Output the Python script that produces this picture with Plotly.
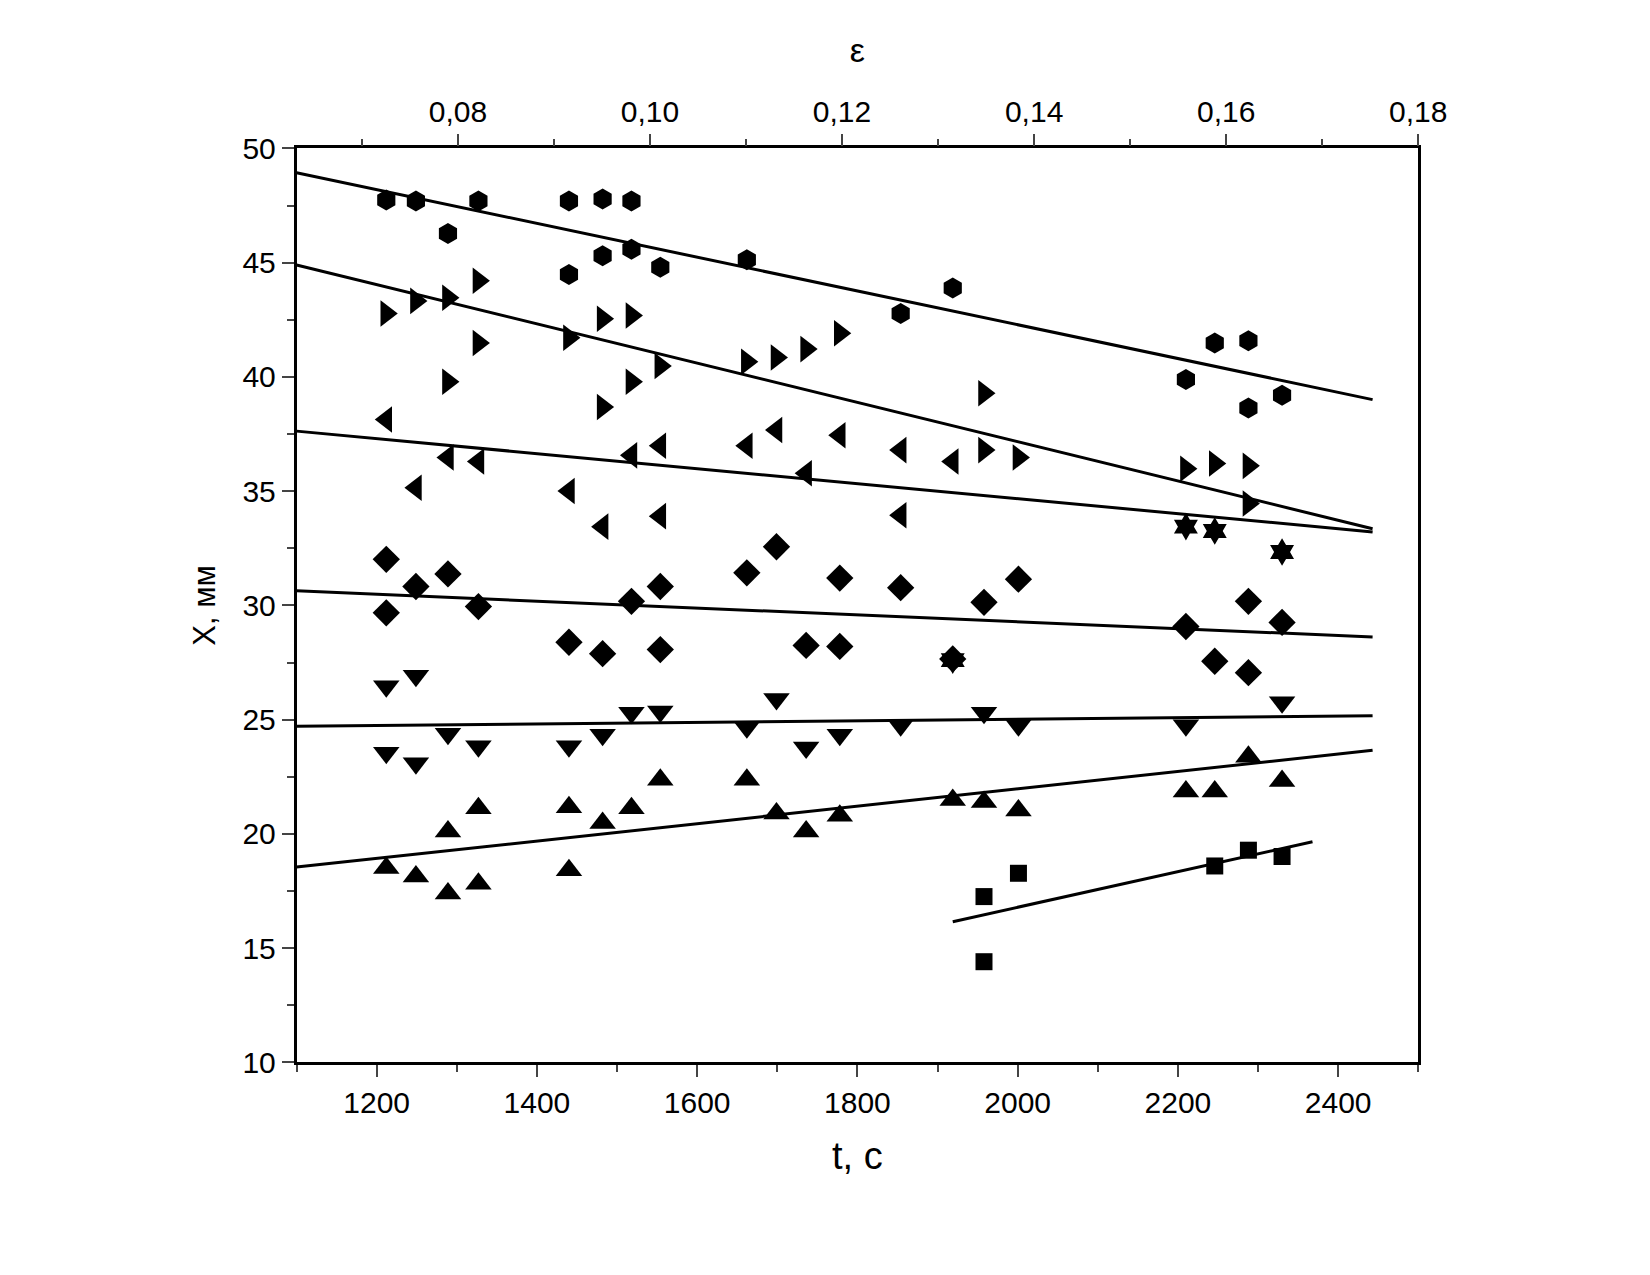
import plotly.graph_objects as go

# t, c and X, mm for each marker series
hex_t = [1212, 1249, 1289, 1327, 1440, 1440, 1482, 1482, 1518, 1518, 1554, 1662, 1854, 1919, 2210, 2246, 2288, 2288, 2330]
hex_x = [47.75, 47.70, 46.28, 47.70, 47.70, 44.48, 47.79, 45.31, 47.70, 45.59, 44.80, 45.13, 42.78, 43.89, 39.89, 41.49, 41.59, 38.64, 39.20]

rtri_t = [1212, 1249, 1289, 1289, 1327, 1327, 1440, 1482, 1482, 1518, 1518, 1554, 1662, 1699, 1736, 1778, 1958, 1958, 2001, 2210, 2246, 2288, 2288]
rtri_x = [42.78, 43.33, 43.47, 39.79, 44.21, 41.49, 41.72, 42.55, 38.69, 42.69, 39.79, 40.48, 40.67, 40.85, 41.22, 41.91, 39.29, 36.80, 36.48, 35.98, 36.21, 36.11, 34.46]

ltri_t = [1212, 1249, 1289, 1327, 1440, 1482, 1518, 1554, 1554, 1662, 1699, 1736, 1778, 1854, 1854, 1919]
ltri_x = [38.14, 35.15, 36.48, 36.30, 35.01, 33.45, 36.57, 36.99, 33.91, 36.99, 37.68, 35.79, 37.45, 36.80, 33.95, 36.30]

star_t = [2210, 2246, 2330, 1919]
star_x = [33.45, 33.26, 32.34, 27.61]

dia_t = [1212, 1212, 1249, 1289, 1327, 1440, 1482, 1518, 1554, 1554, 1662, 1699, 1736, 1778, 1778, 1854, 1919, 1958, 2001, 2210, 2246, 2288, 2288, 2330]
dia_x = [32.02, 29.68, 30.83, 31.38, 29.95, 28.39, 27.89, 30.18, 30.83, 28.07, 31.43, 32.57, 28.25, 31.20, 28.21, 30.78, 27.66, 30.14, 31.15, 29.08, 27.56, 30.18, 27.06, 29.26]

dtri_t = [1212, 1212, 1249, 1249, 1289, 1327, 1440, 1482, 1518, 1554, 1662, 1699, 1736, 1778, 1854, 1958, 2001, 2210, 2330]
dtri_x = [26.46, 23.56, 26.92, 23.10, 24.39, 23.84, 23.84, 24.34, 25.31, 25.36, 24.67, 25.91, 23.79, 24.34, 24.76, 25.31, 24.76, 24.76, 25.77]

utri_t = [1212, 1249, 1289, 1289, 1327, 1327, 1440, 1440, 1482, 1518, 1554, 1662, 1699, 1736, 1778, 1919, 1958, 2001, 2210, 2246, 2288, 2330]
utri_x = [18.51, 18.14, 17.40, 20.11, 17.82, 21.13, 18.41, 21.17, 20.48, 21.13, 22.37, 22.37, 20.90, 20.11, 20.80, 21.49, 21.40, 21.03, 21.86, 21.86, 23.38, 22.32]

sq_t = [1958, 1958, 2001, 2246, 2288, 2330]
sq_x = [17.26, 14.41, 18.28, 18.60, 19.29, 19.01]

# fitted lines: start/end points
fit_t = [[1100, 2443], [1100, 2443], [1100, 2443], [1100, 2443], [1100, 2443], [1100, 2443], [1919, 2368]]
fit_x = [[48.94, 39.01], [44.90, 33.36], [37.63, 33.22], [30.64, 28.62], [24.71, 25.17], [18.55, 23.66], [16.16, 19.66]]

eps_range = [0.0632, 0.18]

fig = go.Figure()
for t, x in zip(fit_t, fit_x):
    fig.add_trace(go.Scatter(x=t, y=x, mode="lines", line=dict(color="black", width=3), showlegend=False))

series = [
    (hex_t, hex_x, "hexagon", 21),
    (rtri_t, rtri_x, "triangle-right", 23),
    (ltri_t, ltri_x, "triangle-left", 23),
    (star_t, star_x, "hexagram", 21),
    (dia_t, dia_x, "diamond", 21),
    (dtri_t, dtri_x, "triangle-down", 23),
    (utri_t, utri_x, "triangle-up", 23),
    (sq_t, sq_x, "square", 17),
]
for t, x, sym, sz in series:
    fig.add_trace(go.Scatter(x=t, y=x, mode="markers", showlegend=False,
                             marker=dict(symbol=sym, size=sz, color="black", line=dict(width=0))))

# dummy trace so the top axis shows up
fig.add_trace(go.Scatter(x=eps_range, y=[10, 10], xaxis="x2", mode="markers",
                         marker=dict(opacity=0), showlegend=False, hoverinfo="skip"))

font = dict(family="Liberation Sans, Arial", size=30, color="black")
fig.update_layout(
    width=1650, height=1275, paper_bgcolor="white", plot_bgcolor="white",
    separators=", ", font=font, margin=dict(l=0, r=0, t=0, b=0),
    xaxis=dict(domain=[0.178, 0.870], range=[1100, 2500], dtick=200, tick0=1200,
               ticks="outside", ticklen=12, tickwidth=2, showline=True, linecolor="black",
               linewidth=2.5, showgrid=False, zeroline=False,
               minor=dict(dtick=100, ticks="outside", ticklen=7, tickwidth=2),
               title=dict(text="t, c", font=dict(size=38), standoff=25)),
    xaxis2=dict(overlaying="x", side="top", anchor="y", range=eps_range, dtick=0.02, tick0=0.08,
                tickformat=".2f", ticks="outside", ticklen=12, tickwidth=2, showline=True,
                linecolor="black", linewidth=2.5, showgrid=False, zeroline=False,
                minor=dict(dtick=0.01, ticks="outside", ticklen=7, tickwidth=2),
                title=dict(text="ε", font=dict(size=34), standoff=22)),
    yaxis=dict(domain=[0.164, 0.9005], range=[10, 50], dtick=5, ticks="outside", ticklen=12,
               tickwidth=2, showline=True, linecolor="black", linewidth=2.5, mirror=True,
               showgrid=False, zeroline=False,
               minor=dict(dtick=2.5, ticks="outside", ticklen=7, tickwidth=2),
               title=dict(text="X, мм", font=dict(size=31), standoff=18)),
)
fig.write_html("out.html")
